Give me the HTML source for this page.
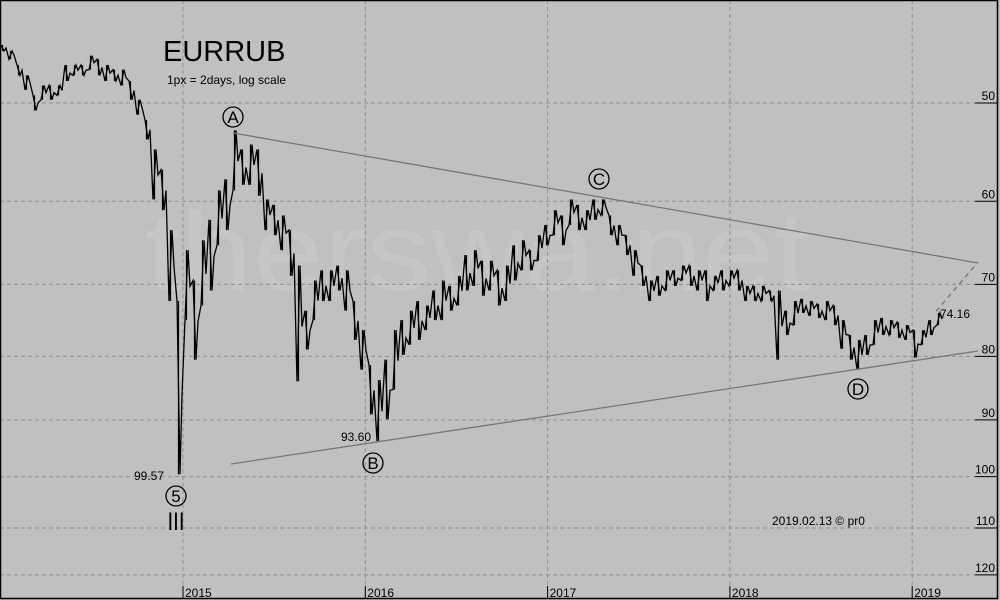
<!DOCTYPE html>
<html><head><meta charset="utf-8"><style>
html,body{margin:0;padding:0;background:#c0c0c0}
svg{display:block;font-family:"Liberation Sans",sans-serif}
</style></head><body>
<svg id="chart" width="1000" height="600" viewBox="0 0 1000 600">
<rect x="0" y="0" width="1000" height="600" fill="#c0c0c0"/>
<text x="145" y="290" font-size="112" fill="#c6c6c6" textLength="665" lengthAdjust="spacingAndGlyphs">therswa.net</text>
<g id="grid"></g>
<g id="axes"></g>
<g id="series"></g>
<g id="ann"></g>
<text x="163" y="61" font-size="29" fill="#000">EURRUB</text>
<text x="167" y="84" font-size="12" fill="#000">1px = 2days, log scale</text>
<text x="772" y="525" font-size="12" fill="#000">2019.02.13 © pr0</text>
<rect x="0.5" y="0.5" width="997" height="598" fill="none" stroke="#000" stroke-width="1.5"/>
</svg>
<script>
const yTicks=[50,60,70,80,90,100,110,120];
const years=["2015","2016","2017","2018","2019"];
const yearX=[0,1,2,3,4];
const lows=[44.9,45.4,46.6,47.5,49.3,48.4,48.4,48.4,46.6,46.6,46.6,45.8,46.1,46.6,47.0,47.0,48.0,49.7,51.6,54.5,56.6,63.3,72.2,65.7,69.5,64.5,62.1,58.8,57.6,52.6,54.5,54.0,54.5,59.8,60.4,61.6,63.3,67.6,73.5,69.5,68.2,68.2,67.6,68.2,72.2,76.2,81.3,83.6,80.5,76.2,74.8,73.5,72.2,72.8,70.8,69.5,70.2,68.9,66.3,65.7,67.0,67.0,68.2,67.6,65.1,64.5,65.7,63.9,62.7,61.0,61.6,59.8,60.4,61.0,59.8,59.8,61.6,62.7,63.9,65.7,67.6,69.5,68.9,68.2,68.2,67.6,67.6,68.2,68.2,68.9,68.2,68.2,68.2,70.2,70.2,70.2,70.8,70.8,73.5,72.2,71.9,72.2,72.6,72.2,72.8,74.8,76.9,77.6,76.9,74.8,74.5,74.8,75.1,75.5,76.2,76.2,74.8,73.8];
const highs=[45.4,46.1,47.5,48.8,50.7,49.7,49.7,49.3,48.0,47.5,47.5,47.0,47.5,48.0,48.0,48.4,49.7,51.1,53.5,59.8,61.0,72.2,99.57,74.8,80.5,72.8,70.8,65.1,63.3,58.8,58.2,58.2,59.4,63.3,63.9,65.7,68.9,83.8,79.0,74.8,72.2,72.2,70.8,73.5,77.6,82.0,89.1,93.6,89.9,85.1,79.8,78.3,77.6,76.2,74.8,74.8,73.5,72.8,70.8,70.2,71.5,70.8,72.8,72.2,69.5,68.2,68.2,67.0,65.1,63.9,65.1,62.7,63.3,63.3,62.1,61.6,63.9,65.1,66.3,68.9,70.2,72.2,71.5,70.8,70.2,69.5,70.2,70.8,72.2,70.8,70.8,70.2,70.8,72.2,72.2,72.2,72.2,80.5,76.9,75.5,73.8,74.2,74.5,74.8,75.5,78.9,80.5,82.0,79.8,78.3,76.9,76.9,77.3,77.6,80.2,78.3,76.9,75.5];
const lastPrice=74.16;
const NS="http://www.w3.org/2000/svg";
const y=p=>103+539*Math.log(p/50);
const xi=i=>1+i*8;
const yearPx=k=>183+k*182.3;
function mk(tag,attrs,parent){const e=document.createElementNS(NS,tag);for(const k in attrs)e.setAttribute(k,attrs[k]);parent.appendChild(e);return e;}
const grid=document.getElementById('grid'),axes=document.getElementById('axes'),series=document.getElementById('series'),ann=document.getElementById('ann');
yTicks.forEach(t=>{
 const l=mk('line',{x1:0,x2:975,y1:y(t),y2:y(t),stroke:'#8f8f8f','stroke-dasharray':'4,3'},grid);
 
 
 const tk=mk('line',{x1:975,x2:997,y1:y(t),y2:y(t),stroke:'#000'},axes);
 
 
 const tx=mk('text',{x:995,y:y(t)-3,'text-anchor':'end','font-size':12,fill:'#000'},axes);
 tx.textContent=t;
 
 
});
yearX.forEach((k,i)=>{
 const X=yearPx(k);
 const l=mk('line',{x1:X,x2:X,y1:0,y2:598,stroke:'#8f8f8f','stroke-dasharray':'4,3'},grid);
 
 
 const tk=mk('line',{x1:X,x2:X,y1:586,y2:598,stroke:'#000'},axes);
 
 
 const tx=mk('text',{x:X+2,y:597,'font-size':12,fill:'#000'},axes);
 tx.textContent=years[i];
 
 
});
let pts=[];
highs.forEach((h,i)=>{
 const a=(i%2===0)?[lows[i],h]:[h,lows[i]];
 pts.push(xi(i)+','+y(a[0]));
 pts.push((xi(i)+3)+','+y(a[1]));
 pts.push((xi(i)+5)+','+y((a[0]+a[1])/2));
});
const pl=mk('polyline',{points:pts.join(' '),fill:'none',stroke:'#000','stroke-width':1.3,'stroke-linejoin':'miter'},series);


highs.forEach((h,i)=>{
 const b=mk('line',{x1:xi(i)+1.5,x2:xi(i)+1.5,y1:y(lows[i]),y2:y(h),stroke:'#000','stroke-width':1.2},series);
 
 
});
const tl=[[233,133,978,263,'upper-trendline'],[231,464,978,351,'lower-trendline']];
tl.forEach(t=>{const l=mk('line',{x1:t[0],y1:t[1],x2:t[2],y2:t[3],stroke:'#777','stroke-width':1.3},ann);
 
 });
const ext=mk('line',{x1:936,y1:y(lastPrice)-4,x2:978,y2:262,stroke:'#777','stroke-width':1.3,'stroke-dasharray':'5,4'},ann);


const labels=[[233,117,'A'],[373,463,'B'],[599,179,'C'],[858,389,'D'],[176,496,'5']];
labels.forEach(a=>{
 const c=mk('circle',{cx:a[0],cy:a[1],r:10,fill:'none',stroke:'#000','stroke-width':1.3},ann);
 
 
 const t=mk('text',{x:a[0],y:a[1]+6,'text-anchor':'middle','font-size':17,fill:'#000'},ann);
 t.textContent=a[2];
 
 
});
const three=mk('text',{x:176,y:530,'text-anchor':'middle','font-size':25,fill:'#000',textLength:17,lengthAdjust:'spacingAndGlyphs'},ann);
three.textContent='III';


const vals=[[164,480,'99.57','end'],[371,441,'93.60','end'],[940,318,lastPrice.toFixed(2),'start']];
vals.forEach(v=>{const t=mk('text',{x:v[0],y:v[1],'text-anchor':v[3],'font-size':12,fill:'#000'},ann);
 t.textContent=v[2];
 
 });
</script>
</body></html>
